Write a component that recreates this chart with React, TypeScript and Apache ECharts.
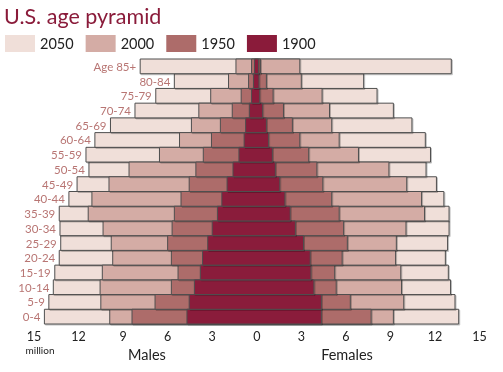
import React, { useEffect, useRef } from "react";
import * as echarts from "echarts";

const ageGroups = ["0-4", "5-9", "10-14", "15-19", "20-24", "25-29", "30-34", "35-39", "40-44", "45-49", "50-54", "55-59", "60-64", "65-69", "70-74", "75-79", "80-84", "Age 85+"];

// millions, ordered as ageGroups (0-4 first)
const male2050 = [14.3, 14.0, 13.7, 13.6, 13.3, 13.2, 13.25, 13.3, 12.65, 12.1, 11.3, 11.5, 10.9, 9.85, 8.2, 6.8, 5.55, 7.85];
const female2050 = [13.6, 13.35, 13.05, 12.9, 12.7, 12.85, 12.95, 12.95, 12.6, 12.1, 11.4, 11.7, 11.35, 10.45, 9.2, 8.1, 7.2, 13.1];
const male2000 = [9.9, 10.5, 10.55, 10.4, 9.7, 9.8, 10.35, 11.35, 11.1, 9.95, 8.6, 6.55, 5.2, 4.4, 3.9, 3.1, 1.9, 1.4];
const female2000 = [9.2, 9.9, 9.75, 9.7, 9.35, 9.4, 10.05, 11.3, 11.1, 10.1, 8.9, 6.85, 5.55, 5.05, 4.9, 4.4, 3.0, 2.9];
const male1950 = [8.4, 6.85, 5.75, 5.3, 5.75, 6.0, 5.7, 5.55, 5.1, 4.55, 4.1, 3.6, 3.05, 2.45, 1.65, 1.05, 0.55, 0.35];
const female1950 = [7.7, 6.3, 5.35, 5.25, 5.75, 6.1, 5.85, 5.55, 5.05, 4.45, 4.05, 3.5, 2.9, 2.4, 1.8, 1.1, 0.65, 0.25];
const male1900 = [4.7, 4.55, 4.2, 3.8, 3.65, 3.3, 3.0, 2.65, 2.35, 2.0, 1.6, 1.2, 0.85, 0.75, 0.5, 0.35, 0.22, 0.15];
const female1900 = [4.35, 4.35, 3.85, 3.65, 3.6, 3.15, 2.6, 2.25, 1.9, 1.55, 1.25, 1.05, 0.8, 0.65, 0.4, 0.2, 0.15, 0.12];

const years = ["2050", "2000", "1950", "1900"];
const colors = ["#f0dfd9", "#d4aca5", "#ad6c6a", "#8a1b3a"];
const xTicks = [-15, -12, -9, -6, -3, 0, 3, 6, 9, 12, 15];

const seriesData = [
  [male2050, female2050],
  [male2000, female2000],
  [male1950, female1950],
  [male1900, female1900],
];

export default function App() {
  const ref = useRef<HTMLDivElement>(null);
  useEffect(() => {
    if (!ref.current) return;
    const chart = echarts.init(ref.current, undefined, { renderer: "svg" });
    const font = "Lato, 'Noto Sans', sans-serif";
    const series = years.map((yr, si) => ({
      type: "custom",
      name: yr,
      itemStyle: { color: colors[si] },
      encode: { x: [0, 1], y: 2 },
      data: ageGroups.map((_, i) => [-seriesData[si][0][i], seriesData[si][1][i], i]),
      renderItem: (params: any, api: any) => {
        const l = api.coord([api.value(0), api.value(2)]);
        const r = api.coord([api.value(1), api.value(2)]);
        const h = api.size([0, 1])[1];
        const children: any[] = [
          {
            type: "rect",
            shape: { x: l[0], y: l[1] - h / 2, width: r[0] - l[0], height: h },
            style: { fill: colors[si], stroke: "#4f4f4f", lineWidth: 1, shadowColor: "rgba(0,0,0,0.25)", shadowOffsetX: 1, shadowOffsetY: 1, shadowBlur: 0 },
          },
        ];
        if (si === 0) {
          children.push({
            type: "text",
            x: l[0] - 4,
            y: l[1],
            style: {
              text: ageGroups[api.value(2)],
              fill: "#b87573",
              font: `11.5px ${font}`,
              align: "right",
              verticalAlign: "middle",
            },
          });
        }
        return { type: "group", children };
      },
    }));
    chart.setOption({
      animation: false,
      title: {
        text: "U.S. age pyramid",
        left: -1,
        top: 0,
        textStyle: { fontSize: 21.5, color: "#8a1b3a", fontWeight: "normal", fontFamily: font },
      },
      legend: {
        data: years,
        left: 0,
        top: 30,
        itemWidth: 30,
        itemHeight: 17,
        itemGap: 12,
        icon: "rect",
        itemStyle: { borderWidth: 0 },
        textStyle: { fontSize: 14.5, color: "#222", fontFamily: font, padding: [3, 0, 0, 0] },
      },
      grid: { left: 34, right: 23.5, top: 59, bottom: 48 },
      xAxis: {
        type: "value",
        min: -15,
        max: 15,
        interval: 3,
        axisLine: { show: false },
        axisTick: { show: false },
        splitLine: { show: false },
        axisLabel: {
          margin: 6,
          fontSize: 12.5,
          lineHeight: 13,
          color: "#222",
          fontFamily: font,
          formatter: (v: number) => (xTicks.includes(v) ? String(Math.abs(v)) : ""),
        },
      },
      yAxis: {
        type: "category",
        data: ageGroups,
        axisLine: { show: false },
        axisTick: { show: false },
        axisLabel: { show: false },
        splitLine: { show: false },
      },
      graphic: [
        { type: "text", x: 40, y: 350, style: { text: "million", font: `10px ${font}`, fill: "#222", align: "center", verticalAlign: "middle" } },
        { type: "text", x: 147, y: 354, style: { text: "Males", font: `14.5px ${font}`, fill: "#222", align: "center", verticalAlign: "middle" } },
        { type: "text", x: 347, y: 354, style: { text: "Females", font: `14.5px ${font}`, fill: "#222", align: "center", verticalAlign: "middle" } },
      ],
      series,
    });
    return () => chart.dispose();
  }, []);
  return <div ref={ref} style={{ position: "fixed", left: 0, top: 0, width: 503, height: 372 }} />;
}
